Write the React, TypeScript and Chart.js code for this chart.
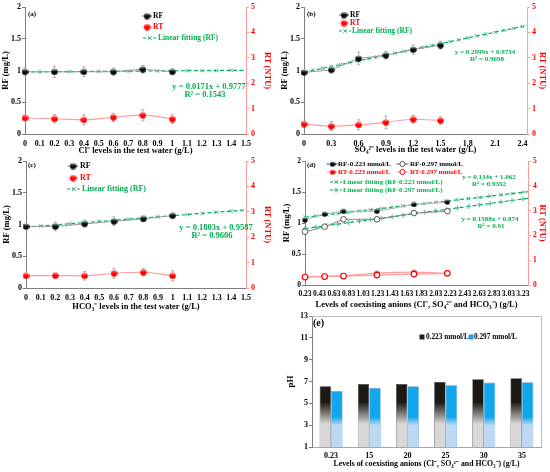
import { useEffect, useRef } from "react";
import { Chart, registerables } from "chart.js";
import type { ChartConfiguration } from "chart.js";

Chart.register(...registerables);

const SERIF = "'Liberation Serif', 'Times New Roman', serif";
const GREEN = "#00b050";
const FIT_MARK = "#4fb59a";
const RED = "#ff0000";
const RED_LINE = "#ff9c9c";
const AXIS = "#7f7f7f";

// (a) Cl- levels in the test water
const clX = [0, 0.2, 0.4, 0.6, 0.8, 1];
const clRF = [0.98, 0.98, 0.98, 0.98, 1.02, 0.98];
const clRFErr = [0.06, 0.09, 0.08, 0.06, 0.06, 0.05];
const clRT = [0.63, 0.6, 0.56, 0.66, 0.74, 0.59];
const clRTErr = [0.12, 0.17, 0.2, 0.16, 0.22, 0.17];
const clFitX = [0, 0.1, 0.2, 0.3, 0.4, 0.5, 0.6, 0.7, 0.8, 0.9, 1, 1.1, 1.2, 1.3, 1.4, 1.5];
const clFitY = [0.978, 0.979, 0.981, 0.983, 0.985, 0.986, 0.988, 0.99, 0.991, 0.993, 0.995, 0.997, 0.998, 1.0, 1.002, 1.003];
const clTicks = [0, 0.1, 0.2, 0.3, 0.4, 0.5, 0.6, 0.7, 0.8, 0.9, 1, 1.1, 1.2, 1.3, 1.4, 1.5];

// (b) SO4 2- levels
const soX = [0, 0.3, 0.6, 0.9, 1.2, 1.5];
const soRF = [0.97, 1.01, 1.19, 1.24, 1.33, 1.4];
const soRFErr = [0.03, 0.06, 0.1, 0.06, 0.07, 0.06];
const soRT = [0.39, 0.31, 0.36, 0.46, 0.58, 0.53];
const soRTErr = [0.1, 0.18, 0.2, 0.25, 0.15, 0.15];
const soFitX = [0, 0.1, 0.2, 0.3, 0.4, 0.5, 0.6, 0.7, 0.8, 0.9, 1, 1.1, 1.2, 1.3, 1.4, 1.5, 1.6, 1.7, 1.8, 1.9, 2, 2.1, 2.2, 2.3, 2.4, 2.45];
const soFitY = [0.973, 1.003, 1.033, 1.063, 1.093, 1.123, 1.153, 1.183, 1.213, 1.243, 1.273, 1.303, 1.333, 1.363, 1.393, 1.423, 1.453, 1.483, 1.513, 1.543, 1.573, 1.603, 1.633, 1.663, 1.693, 1.708];
const soTicks = [0, 0.3, 0.6, 0.9, 1.2, 1.5, 1.8, 2.1, 2.4];

// (c) HCO3- levels
const hcX = [0, 0.2, 0.4, 0.6, 0.8, 1];
const hcRF = [0.97, 0.97, 1.01, 1.05, 1.09, 1.14];
const hcRFErr = [0.03, 0.07, 0.06, 0.07, 0.05, 0.05];
const hcRT = [0.48, 0.49, 0.48, 0.58, 0.62, 0.48];
const hcRTErr = [0.05, 0.1, 0.17, 0.2, 0.15, 0.2];
const hcFitX = [0, 0.1, 0.2, 0.3, 0.4, 0.5, 0.6, 0.7, 0.8, 0.9, 1, 1.1, 1.2, 1.3, 1.4, 1.5];
const hcFitY = [0.959, 0.977, 0.995, 1.013, 1.031, 1.049, 1.067, 1.085, 1.103, 1.121, 1.139, 1.157, 1.175, 1.193, 1.211, 1.229];
const hcTicks = [0, 0.1, 0.2, 0.3, 0.4, 0.5, 0.6, 0.7, 0.8, 0.9, 1, 1.1, 1.2, 1.3, 1.4, 1.5];

// (d) coexisting anions, two dosages
const mixX = [0.23, 0.5, 0.76, 1.22, 1.73, 2.19];
const mixRF223 = [1.05, 1.145, 1.19, 1.19, 1.3, 1.34];
const mixRF297 = [0.86, 0.94, 1.06, 1.06, 1.16, 1.19];
const mixRT223 = [0.33, 0.35, 0.37, 0.48, 0.52, 0.47];
const mixRT297 = [0.32, 0.34, 0.36, 0.4, 0.44, 0.47];
const mixFitX = [0.23, 0.38, 0.53, 0.68, 0.83, 0.98, 1.13, 1.28, 1.43, 1.58, 1.73, 1.88, 2.03, 2.18, 2.33, 2.48, 2.63, 2.78, 2.93, 3.08, 3.23, 3.3];
const mixFit223 = [1.093, 1.113, 1.133, 1.153, 1.173, 1.193, 1.213, 1.234, 1.254, 1.274, 1.294, 1.314, 1.334, 1.354, 1.374, 1.394, 1.414, 1.435, 1.455, 1.475, 1.495, 1.504];
const mixFit297 = [0.911, 0.934, 0.958, 0.982, 1.006, 1.03, 1.053, 1.077, 1.101, 1.125, 1.149, 1.173, 1.196, 1.22, 1.244, 1.268, 1.292, 1.315, 1.339, 1.363, 1.387, 1.398];
const mixTicks = [0.23, 0.43, 0.63, 0.83, 1.03, 1.23, 1.43, 1.63, 1.83, 2.03, 2.23, 2.43, 2.63, 2.83, 3.03, 3.23];

// (e) pH
const phLevels = ["0.23", "15", "20", "25", "30", "35"];
const ph223 = [6.56, 6.78, 6.78, 6.95, 7.2, 7.29];
const ph297 = [6.13, 6.4, 6.56, 6.65, 6.9, 6.92];

const ANIONS = "Levels of coexisting anions (Cl\u207B, SO\u2084\u00B2\u207B and HCO\u2083\u207B) (g/L)";

type Ctx = CanvasRenderingContext2D;

const pts = (xs: number[], ys: number[]) => xs.map((x, i) => ({ x, y: ys[i] }));
// the last fit point only carries the line to the axis edge
const trailingHidden = (xs: number[], r: number) => xs.map((_, i) => (i === xs.length - 1 ? 0 : r));

let markers: Record<string, HTMLCanvasElement> | null = null;
function ball(d: number, hi: string, lo: string) {
  const c = document.createElement("canvas");
  c.width = d;
  c.height = d;
  const g = c.getContext("2d")!;
  const grad = g.createLinearGradient(0, 0, 0, d);
  grad.addColorStop(0, hi);
  grad.addColorStop(0.45, lo);
  grad.addColorStop(1, lo);
  g.fillStyle = grad;
  g.beginPath();
  g.arc(d / 2, d / 2, d / 2 - 0.3, 0, Math.PI * 2);
  g.fill();
  return c;
}
function getMarkers() {
  if (!markers) {
    markers = {
      rf: ball(7, "#bfe6f5", "#0a0a0a"),
      rt: ball(7, "#ffb0b0", "#ff0000"),
      rfSmall: ball(6, "#bfe6f5", "#0a0a0a"),
      rtSmall: ball(6, "#bfe6f5", "#ff0000"),
    };
  }
  return markers;
}

function label(c: Ctx, s: string, x: number, y: number, color = "#000", align: CanvasTextAlign = "left", size = 8) {
  c.save();
  c.font = `bold ${size}px ${SERIF}`;
  c.fillStyle = color;
  c.textAlign = align;
  c.textBaseline = "middle";
  c.fillText(s, x, y);
  c.restore();
}

function sample(c: Ctx, x: number, y: number, half: number, color: string, dash: number[] = []) {
  c.save();
  c.strokeStyle = color;
  c.lineWidth = 1;
  c.setLineDash(dash);
  c.beginPath();
  c.moveTo(x - half, y);
  c.lineTo(x + half, y);
  c.stroke();
  c.restore();
}

function glyph(c: Ctx, kind: "crossRot" | "cross" | "ring", x: number, y: number, r: number, color: string) {
  c.save();
  c.strokeStyle = color;
  c.lineWidth = 1;
  c.beginPath();
  if (kind === "crossRot") {
    const o = r * 0.75;
    c.moveTo(x - o, y - o);
    c.lineTo(x + o, y + o);
    c.moveTo(x - o, y + o);
    c.lineTo(x + o, y - o);
  } else if (kind === "cross") {
    c.moveTo(x - r, y);
    c.lineTo(x + r, y);
    c.moveTo(x, y - r);
    c.lineTo(x, y + r);
  } else {
    c.fillStyle = "#fff";
    c.arc(x, y, r, 0, Math.PI * 2);
    c.fill();
  }
  c.stroke();
  c.restore();
}

function sprite(c: Ctx, img: HTMLCanvasElement, x: number, y: number) {
  c.drawImage(img, x - img.width / 2, y - img.height / 2);
}

const errorBars = {
  id: "errorBars",
  beforeDatasetsDraw(chart: any) {
    const c: Ctx = chart.ctx;
    chart.data.datasets.forEach((ds: any, i: number) => {
      if (!ds.errors) return;
      const meta = chart.getDatasetMeta(i);
      const sc = chart.scales[meta.yAxisID];
      c.save();
      c.strokeStyle = "#9a9a9a";
      c.lineWidth = 0.8;
      meta.data.forEach((pt: any, j: number) => {
        const v = ds.data[j].y;
        const e = ds.errors[j];
        const y1 = sc.getPixelForValue(v + e);
        const y2 = sc.getPixelForValue(v - e);
        c.beginPath();
        c.moveTo(pt.x, y1);
        c.lineTo(pt.x, y2);
        c.moveTo(pt.x - 1.5, y1);
        c.lineTo(pt.x + 1.5, y1);
        c.moveTo(pt.x - 1.5, y2);
        c.lineTo(pt.x + 1.5, y2);
        c.stroke();
      });
      c.restore();
    });
  },
};

const notes = (draw: (c: Ctx) => void) => ({
  id: "notes",
  afterDraw(chart: any) {
    draw(chart.ctx);
  },
});

type Frame = {
  leftW: number;
  rightW: number;
  bottomH: number;
  padTop: number;
  leftTitlePad: number;
  titleBottom: number;
  tickSize: number;
};

function lineConfig(
  datasets: any[],
  xMin: number,
  xMax: number,
  xTicks: number[],
  xTitle: string,
  f: Frame,
  draw: (c: Ctx) => void
): ChartConfiguration {
  const tickFont = { family: SERIF, size: f.tickSize, weight: "bold" as const };
  const titleFont = { family: SERIF, size: 8.5, weight: "bold" as const };
  const plain = (v: any) => String(v);
  return {
    type: "line",
    data: { datasets },
    options: {
      animation: false,
      responsive: true,
      maintainAspectRatio: false,
      layout: { padding: { top: f.padTop, left: 0, right: 0, bottom: 0 } },
      plugins: { legend: { display: false }, tooltip: { enabled: false } },
      scales: {
        x: {
          type: "linear",
          min: xMin,
          max: xMax,
          afterBuildTicks: (s: any) => {
            s.ticks = xTicks.map((value) => ({ value }));
          },
          afterFit: (s: any) => {
            s.height = f.bottomH;
          },
          grid: { display: false, drawTicks: false },
          border: { color: AXIS },
          ticks: { autoSkip: false, maxRotation: 0, padding: 5, color: "#000", font: tickFont, callback: plain },
          title: { display: true, text: xTitle, color: "#000", font: titleFont, padding: { top: 0, bottom: f.titleBottom } },
        },
        y: {
          position: "left",
          min: 0,
          max: 2,
          afterFit: (s: any) => {
            s.width = f.leftW;
          },
          ticks: { stepSize: 0.5, padding: 1, color: "#000", font: tickFont, callback: plain },
          grid: { drawOnChartArea: false, tickLength: 3, color: AXIS },
          border: { color: AXIS },
          title: { display: true, text: "RF (mg/L)", color: "#000", font: titleFont, padding: { top: f.leftTitlePad, bottom: 0 } },
        },
        y1: {
          position: "right",
          min: 0,
          max: 5,
          afterFit: (s: any) => {
            s.width = f.rightW;
          },
          ticks: { stepSize: 1, padding: 2, color: RED, font: tickFont, callback: plain },
          grid: { drawOnChartArea: false, tickLength: 3, color: RED_LINE },
          border: { color: RED_LINE },
          title: { display: true, text: "RT (NTU)", color: RED, font: titleFont, padding: { top: 3, bottom: 0 } },
        },
      },
    } as any,
    plugins: [errorBars, notes(draw)] as any,
  };
}

function rfSet(xs: number[], ys: number[], errs: number[] | null, img: HTMLCanvasElement, line = "#9a9a9a") {
  return { data: pts(xs, ys), errors: errs, yAxisID: "y", borderColor: line, borderWidth: 1, pointStyle: img, pointRadius: 4, clip: false };
}
function rtSet(xs: number[], ys: number[], errs: number[] | null, img: HTMLCanvasElement | string) {
  return {
    data: pts(xs, ys),
    errors: errs,
    yAxisID: "y1",
    borderColor: RED_LINE,
    borderWidth: 1.2,
    cubicInterpolationMode: "monotone",
    pointStyle: img,
    pointRadius: 2.8,
    pointBackgroundColor: "#fff",
    pointBorderColor: RED,
    pointBorderWidth: 1.2,
    clip: false,
  };
}
function fitSet(xs: number[], ys: number[], style: string) {
  return {
    data: pts(xs, ys),
    yAxisID: "y",
    borderColor: GREEN,
    borderWidth: 1.2,
    borderDash: [4, 2.5],
    pointStyle: style,
    pointRadius: trailingHidden(xs, 2.5),
    pointBorderColor: FIT_MARK,
    pointBorderWidth: 1,
    clip: false,
  };
}

function panelA(): ChartConfiguration {
  const m = getMarkers();
  return lineConfig(
    [rfSet(clX, clRF, clRFErr, m.rf), fitSet(clFitX, clFitY, "crossRot"), rtSet(clX, clRT, clRTErr, m.rt)],
    0,
    1.5,
    clTicks,
    "Cl\u207B levels in the test water (g/L)",
    { leftW: 25, rightW: 29, bottomH: 22, padTop: 7, leftTitlePad: 1, titleBottom: 0, tickSize: 8 },
    (c) => {
      label(c, "(a)", 28, 14, "#000", "left", 7);
      sample(c, 147, 16, 5, "#555");
      sprite(c, m.rf, 147, 16);
      label(c, "RF", 153, 16, "#000", "left", 7.5);
      sample(c, 147, 27, 5, RED_LINE);
      sprite(c, m.rt, 147, 27);
      label(c, "RT", 153, 27, RED, "left", 7.5);
      sample(c, 150, 38, 7, GREEN, [3, 2]);
      glyph(c, "crossRot", 150, 38, 2.5, FIT_MARK);
      label(c, "Linear fitting (RF)", 158, 38, GREEN, "left", 7.5);
      label(c, "y = 0.0171x + 0.9777", 209, 87, GREEN, "center", 8.5);
      label(c, "R\u00B2 = 0.1543", 205, 95, GREEN, "center", 8.5);
    }
  );
}

function panelB(): ChartConfiguration {
  const m = getMarkers();
  return lineConfig(
    [rfSet(soX, soRF, soRFErr, m.rf), fitSet(soFitX, soFitY, "crossRot"), rtSet(soX, soRT, soRTErr, m.rt)],
    0,
    2.45,
    soTicks,
    "SO\u2084\u00B2\u207B levels in the test water (g/L)",
    { leftW: 29, rightW: 23, bottomH: 22, padTop: 7, leftTitlePad: 5, titleBottom: 1, tickSize: 8 },
    (c) => {
      label(c, "(b)", 32, 14, "#000", "left", 7);
      sample(c, 69, 15, 5, "#555");
      sprite(c, m.rf, 69, 15);
      label(c, "RF", 75, 15, "#000", "left", 7.5);
      sample(c, 69, 23, 5, RED_LINE);
      sprite(c, m.rt, 69, 23);
      label(c, "RT", 75, 23, RED, "left", 7.5);
      sample(c, 70, 31, 6, GREEN, [3, 2]);
      glyph(c, "crossRot", 70, 31, 2.5, FIT_MARK);
      label(c, "Linear fitting (RF)", 77, 31, GREEN, "left", 7.5);
      label(c, "y = 0.2999x + 0.9734", 210, 52, GREEN, "center", 7);
      label(c, "R\u00B2 = 0.9698", 212, 59, GREEN, "center", 7);
    }
  );
}

function panelC(): ChartConfiguration {
  const m = getMarkers();
  return lineConfig(
    [rfSet(hcX, hcRF, hcRFErr, m.rf), fitSet(hcFitX, hcFitY, "crossRot"), rtSet(hcX, hcRT, hcRTErr, m.rt)],
    0,
    1.5,
    hcTicks,
    "HCO\u2083\u207B levels in the test water (g/L)",
    { leftW: 26, rightW: 29, bottomH: 24, padTop: 7, leftTitlePad: 2, titleBottom: 0, tickSize: 8 },
    (c) => {
      label(c, "(c)", 28, 11, "#000", "left", 7);
      sample(c, 73, 12, 5, "#555");
      sprite(c, m.rf, 73, 12);
      label(c, "RF", 80, 12, "#000", "left", 8);
      sample(c, 73, 24, 5, RED_LINE);
      sprite(c, m.rt, 73, 24);
      label(c, "RT", 80, 24, RED, "left", 8);
      sample(c, 74, 35, 7, GREEN, [3, 2]);
      glyph(c, "crossRot", 74, 35, 2.5, FIT_MARK);
      label(c, "Linear fitting (RF)", 82, 35, GREEN, "left", 8);
      label(c, "y = 0.1803x + 0.9587", 216, 74, GREEN, "center", 8.5);
      label(c, "R\u00B2 = 0.9606", 212, 82, GREEN, "center", 8.5);
    }
  );
}

function panelD(): ChartConfiguration {
  const m = getMarkers();
  return lineConfig(
    [
      rfSet(mixX, mixRF223, null, m.rfSmall, "#b0b0b0"),
      { ...rfSet(mixX, mixRF297, null, m.rfSmall, "#8a8a8a"), pointStyle: "circle", pointRadius: 2.8, pointBackgroundColor: "#fff", pointBorderColor: "#555", pointBorderWidth: 1 },
      fitSet(mixFitX, mixFit223, "crossRot"),
      fitSet(mixFitX, mixFit297, "cross"),
      rtSet(mixX, mixRT297, null, "circle"),
      rtSet(mixX, mixRT223, null, m.rtSmall),
    ],
    0.23,
    3.3,
    mixTicks,
    ANIONS,
    { leftW: 30, rightW: 22, bottomH: 27, padTop: 7, leftTitlePad: 7, titleBottom: 2, tickSize: 7.5 },
    (c) => {
      label(c, "(d)", 32, 11, "#000", "left", 7);
      sample(c, 57.5, 10, 6, "#555");
      sprite(c, m.rfSmall, 57.5, 10);
      label(c, "RF-0.223 mmol/L", 63, 10, "#000", "left", 7);
      sample(c, 127.5, 10, 6, "#555");
      glyph(c, "ring", 127.5, 10, 2.6, "#555");
      label(c, "RF-0.297 mmol/L", 135, 10, "#000", "left", 7);
      sample(c, 57.5, 18, 6, RED_LINE);
      sprite(c, m.rtSmall, 57.5, 18);
      label(c, "RT-0.223 mmol/L", 63, 18, RED, "left", 7);
      sample(c, 127.5, 18, 6, RED_LINE);
      glyph(c, "ring", 127.5, 18, 2.6, RED);
      label(c, "RT-0.297 mmol/L", 135, 18, RED, "left", 7);
      sample(c, 61, 28, 6, GREEN, [3, 2]);
      glyph(c, "crossRot", 61, 28, 2.5, FIT_MARK);
      label(c, "Linear fitting (RF-0.223 mmol/L)", 68, 28, GREEN, "left", 7);
      sample(c, 61, 36, 6, GREEN, [3, 2]);
      glyph(c, "cross", 61, 36, 2.5, FIT_MARK);
      label(c, "Linear fitting (RF-0.297 mmol/L)", 68, 36, GREEN, "left", 7);
      label(c, "y = 0.134x + 1.062", 214, 23, GREEN, "center", 7);
      label(c, "R\u00B2 = 0.9352", 214, 30, GREEN, "center", 7);
      label(c, "y = 0.1588x + 0.874", 215, 65, GREEN, "center", 7);
      label(c, "R\u00B2 = 0.91", 216, 72, GREEN, "center", 7);
    }
  );
}

function barFill(chart: any, from: number, to: number, dark: string, light: string) {
  if (!chart.chartArea) return dark;
  const y = chart.scales.y;
  const g = chart.ctx.createLinearGradient(0, y.getPixelForValue(from), 0, y.getPixelForValue(to));
  g.addColorStop(0, dark);
  g.addColorStop(1, light);
  return g;
}

const plotBox = {
  id: "plotBox",
  afterDraw(chart: any) {
    const { ctx: c, chartArea: a } = chart;
    c.save();
    c.strokeStyle = "#bfbfbf";
    c.lineWidth = 1;
    c.beginPath();
    c.moveTo(a.left, a.top + 0.5);
    c.lineTo(a.right + 0.5, a.top + 0.5);
    c.lineTo(a.right + 0.5, a.bottom);
    c.stroke();
    c.restore();
  },
};

function panelE(): ChartConfiguration {
  const tickFont = { family: SERIF, size: 8, weight: "bold" as const };
  return {
    type: "bar",
    data: {
      labels: phLevels,
      datasets: [
        {
          label: "0.223 mmol/L",
          data: ph223,
          backgroundColor: (ctx: any) => barFill(ctx.chart, 5.1, 3.1, "#1c1a12", "#d8d8d8"),
          borderColor: "#3a3a3a",
          borderWidth: 0.6,
        },
        {
          label: "0.297 mmol/L",
          data: ph297,
          backgroundColor: (ctx: any) => barFill(ctx.chart, 3.75, 3.0, "#12a6ec", "#bdd8f1"),
          borderColor: "#5b9bd5",
          borderWidth: 0.6,
        },
      ],
    },
    options: {
      animation: false,
      responsive: true,
      maintainAspectRatio: false,
      layout: { padding: { top: 11, left: 10, right: 9, bottom: 0 } },
      datasets: { bar: { categoryPercentage: 0.6, barPercentage: 1 } },
      plugins: { legend: { display: false }, tooltip: { enabled: false } },
      scales: {
        x: {
          afterFit: (s: any) => {
            s.height = 25;
          },
          grid: { display: false, drawTicks: false },
          border: { color: "#a6a6a6" },
          ticks: { padding: 4, color: "#000", font: tickFont },
          title: { display: true, text: ANIONS, color: "#000", font: { family: SERIF, size: 7.8, weight: "bold" }, padding: { top: 0, bottom: 3 } },
        },
        y: {
          min: 1,
          max: 13,
          afterFit: (s: any) => {
            s.width = 27;
          },
          ticks: { stepSize: 2, padding: 1, color: "#000", font: tickFont },
          grid: { drawOnChartArea: false, tickLength: 3, color: AXIS },
          border: { color: AXIS },
          title: { display: true, text: "pH", color: "#000", font: { family: SERIF, size: 9, weight: "bold" }, padding: { top: 0, bottom: 0 } },
        },
      },
    } as any,
    plugins: [
      plotBox,
      notes((c) => {
        label(c, "(e)", 38, 18, "#000", "left", 10);
        c.fillStyle = "#222";
        c.fillRect(144.5, 29.5, 5, 5);
        label(c, "0.223 mmol/L", 151, 32, "#000", "left", 7.3);
        c.fillStyle = "#1aa3e8";
        c.fillRect(193.5, 29.5, 5, 5);
        label(c, "0.297 mmol/L", 199, 32, "#000", "left", 7.3);
      }),
    ] as any,
  };
}

type Box = { left: number; top: number; width: number; height: number };

function ChartBox({ make, box }: { make: () => ChartConfiguration; box: Box }) {
  const canvasRef = useRef<HTMLCanvasElement | null>(null);

  useEffect(() => {
    if (!canvasRef.current) return;
    const chart = new Chart(canvasRef.current, make());
    return () => {
      chart.destroy();
    };
  }, [make]);

  return (
    <div style={{ position: "absolute", ...box }}>
      <canvas ref={canvasRef} style={{ display: "block" }} />
    </div>
  );
}

export default function App() {
  return (
    <div style={{ position: "absolute", left: 0, top: 0, width: 550, height: 472, background: "#fff", overflow: "hidden" }}>
      <ChartBox make={panelA} box={{ left: 0, top: 0, width: 275, height: 156 }} />
      <ChartBox make={panelB} box={{ left: 275, top: 0, width: 275, height: 156 }} />
      <ChartBox make={panelC} box={{ left: 0, top: 154, width: 275, height: 158 }} />
      <ChartBox make={panelD} box={{ left: 275, top: 154, width: 275, height: 158 }} />
      <ChartBox make={panelE} box={{ left: 275, top: 305, width: 275, height: 167 }} />
    </div>
  );
}
